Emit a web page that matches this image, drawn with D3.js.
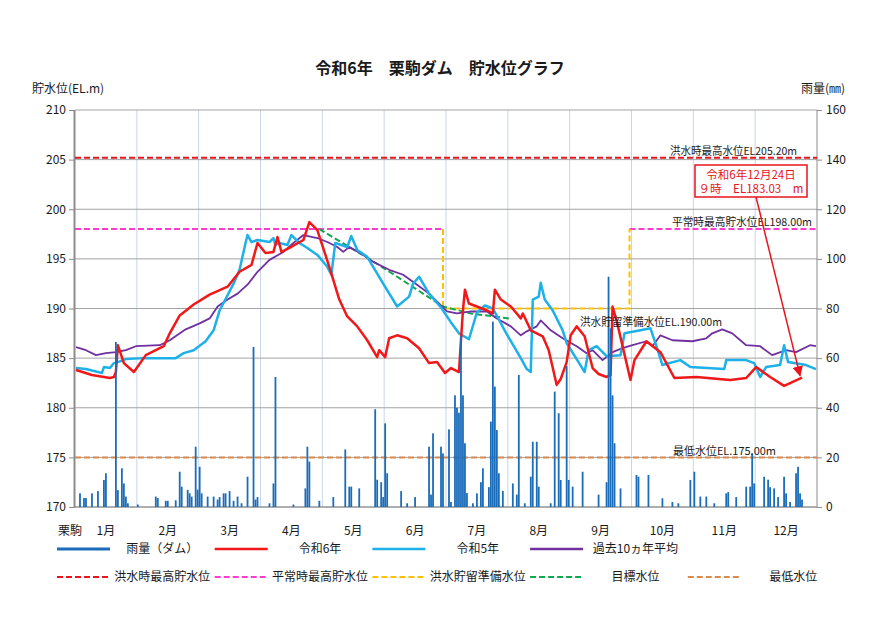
<!DOCTYPE html>
<html><head><meta charset="utf-8">
<script src="https://cdn.jsdelivr.net/npm/d3@7"></script>
<style>
body{margin:0;background:#fff}
svg{display:block}
text{font-family:"Noto Sans CJK JP","Noto Sans",sans-serif;fill:#1a1a1a}
</style>
</head><body><svg id="c" width="890" height="630"></svg>
<script>
// ---- data (day = slot index in a 31-slot-per-month calendar, 0 = Jan 1) ----
const months = ["1月","2月","3月","4月","5月","6月","7月","8月","9月","10月","11月","12月"];
const levelTicks = [170,175,180,185,190,195,200,205,210];
const rainTicks = [0,20,40,60,80,100,120,140,160];

const rainDay = [2,4,5,8,11,14,15,20,21,23,24,25,26,31,40,41,45,46,50,52,53,56,57,58,60,61,62,63,66,69,71,72,74,75,77,79,81,83,86,89,90,91,97,99,100,109,115,116,117,122,129,135,137,138,142,150,151,153,154,155,156,163,166,170,177,178,179,183,184,187,188,190,191,192,193,194,195,196,199,201,203,204,207,208,209,210,211,212,214,219,221,222,225,228,229,231,232,238,240,242,243,246,247,249,254,262,266,267,268,269,270,273,281,282,287,294,299,302,308,310,313,316,320,326,327,331,336,338,339,340,345,347,348,350,352,355,356,358,361,362,363,364];
const rainMM  = [5.5,3.6,3.6,5.5,6.4,10.9,13.6,66.5,6.8,15.6,9.5,4.2,1.5,1,4.2,3.6,2.5,2.5,2.7,14.2,8.2,6.9,5.5,4.2,24.3,7,16.2,5.5,4.2,4.2,3,4,5.5,5.5,6.4,2.5,4.2,1.5,12.2,64.5,3,4,1.5,9.5,52.4,1,7.5,24.3,18.3,2.5,4,23.2,8.2,8.2,7.5,39.4,11,10,4,33.7,13.6,6.4,1.5,4,24.3,5,29.7,24.3,21.6,31.3,2,45,40,38,69,45,25.7,5.6,1.5,5.5,10,15.6,8,34.4,74.7,48.5,31,13.6,6.5,9.5,5,53.2,1.5,12.2,26.3,26.3,8.2,1.5,46.5,37.8,10.9,56.8,10.9,8.2,14.2,5,10,92.8,72,45,25.7,7.5,12.9,12.2,12.9,3.5,2,1.5,10.9,14.2,4.2,4.2,1.5,5.5,6,4,8.2,8.2,21.6,9.5,12.2,11,8,7.5,4,12.2,5.5,2,13.6,16.2,5.5,3];

const level2024 = [[0,183.8],[8,183.3],[17,183.0],[19,183.1],[20,183.6],[21,186.3],[24,184.5],[29,183.6],[35,185.3],[44,186.2],[47,187.5],[52,189.3],[59,190.4],[67,191.4],[76,192.2],[82,193.7],[88,194.4],[91,196.6],[95,195.6],[99,195.7],[101,197.2],[103,195.7],[107,196.1],[114,196.9],[117,198.7],[121,197.9],[127,194.2],[132,190.9],[136,189.2],[141,188.2],[146,186.8],[151,185.1],[152,185.8],[155,185.1],[157,187.0],[161,187.3],[166,187.0],[172,186.0],[177,184.5],[181,184.6],[185,183.5],[188,184.0],[192,183.6],[193,186.8],[194,189.8],[195,191.9],[197,190.5],[201,190.2],[206,189.8],[209,189.5],[210,191.9],[213,190.9],[218,190.2],[223,189.0],[224,189.5],[228,187.8],[234,187.2],[237,185.8],[241,182.3],[243,182.9],[246,184.6],[248,187.3],[251,188.2],[255,187.2],[259,184.0],[262,183.4],[266,183.1],[268,183.3],[269,190.2],[271,188.8],[278,182.8],[280,184.8],[286,186.7],[293,185.6],[300,183.0],[311,183.1],[328,182.8],[336,183.0],[341,184.1],[348,183.1],[355,182.2],[364,183.03]];

const level2023 = [[0,184.0],[5,183.9],[13,183.5],[14,184.1],[17,184.0],[19,184.5],[21,184.6],[25,184.9],[34,185.0],[50,185.0],[54,185.5],[59,185.8],[65,186.7],[69,187.8],[72,189.8],[79,192.5],[82,193.9],[85,196.6],[86,197.4],[88,196.7],[91,196.9],[97,196.7],[99,197.1],[100,196.4],[102,196.6],[106,196.4],[108,197.4],[112,196.6],[116,196.1],[121,195.4],[126,194.2],[128,193.4],[130,196.6],[136,196.2],[138,197.3],[141,195.9],[146,195.2],[154,192.5],[161,190.2],[167,191.2],[169,192.5],[172,193.2],[177,191.5],[183,190.1],[188,188.6],[192,187.5],[197,186.9],[201,189.6],[205,190.3],[209,190.0],[216,187.4],[223,185.0],[226,183.9],[228,183.6],[229,190.9],[232,191.2],[233,192.6],[235,190.9],[239,189.8],[244,187.8],[246,186.5],[251,184.9],[255,183.6],[257,185.8],[261,186.2],[266,185.2],[273,185.3],[275,187.5],[283,187.8],[288,188.0],[291,186.2],[294,184.3],[303,184.8],[308,184.1],[325,183.9],[326,184.8],[336,184.8],[340,184.5],[343,183.1],[346,184.1],[353,184.3],[355,186.3],[357,184.6],[366,184.3],[371,183.9]];

const levelAvg10 = [[0,186.1],[5,185.8],[10,185.3],[15,185.5],[20,185.6],[25,185.8],[30,186.2],[42,186.3],[47,186.8],[55,187.9],[62,188.5],[67,189.0],[71,190.2],[76,190.9],[81,191.5],[86,192.4],[91,193.7],[97,194.9],[104,195.7],[109,196.6],[114,197.4],[121,197.1],[126,196.7],[131,196.2],[134,195.7],[137,196.2],[144,195.4],[149,194.7],[157,193.9],[164,193.4],[171,192.4],[177,191.5],[186,189.7],[191,189.5],[198,189.7],[206,189.7],[211,189.0],[218,188.2],[223,187.3],[226,187.7],[231,188.2],[233,188.8],[238,187.8],[244,187.0],[251,186.2],[256,185.5],[259,185.8],[264,184.8],[269,185.6],[274,186.0],[279,186.3],[286,186.7],[289,186.2],[293,187.3],[299,186.8],[309,186.7],[316,187.0],[319,187.5],[324,187.9],[329,187.5],[336,186.3],[343,186.2],[349,185.3],[356,185.8],[361,185.6],[368,186.3],[371,186.2]];

const targetLevel = [[122,198.0],[147,195.0],[161,193.2],[184,190.2],[198,189.5],[217,189.0]];

const floodMaxLevel = 205.2, normalMaxLevel = 198.0, floodPrepLevel = 190.0, minLevel = 175.0;
const floodSeason = [184.5, 278];   // day slots where 洪水期 starts / ends
const lastDay = 364, lastLevel = 183.03;

const refLabels = ["洪水時最高水位EL205.20m","平常時最高貯水位EL198.00m","洪水貯留準備水位EL.190.00m","最低水位EL.175.00m"];
const legendRow1 = ["雨量（ダム）","令和6年","令和5年","過去10ヵ年平均"];
const legendRow2 = ["洪水時最高貯水位","平常時最高貯水位","洪水貯留準備水位","目標水位","最低水位"];
const annotLines = ["令和6年12月24日","９時　EL183.03　m"];

// ---- drawing ----
const svg = d3.select("#c");
const L = 75, R = 817, T = 110, B = 507;
const x = d3.scaleLinear().domain([0, 372]).range([L, R]);
const cx = d => x(d + 0.5);
const yL = d3.scaleLinear().domain([170, 210]).range([B, T]);
const yR = d3.scaleLinear().domain([0, 160]).range([B, T]);

const C = {rain:"#1b6cb9", r6:"#f01818", r5:"#1eb0e8", avg:"#7030a0",
  flood:"#e8141e", normal:"#ff3ccd", prep:"#ffc000", target:"#10a84e", min:"#d98a4c"};

// title
svg.append("text").attr("x", 440).attr("y", 74).attr("text-anchor","middle")
  .attr("font-size", 16).attr("font-weight","bold").text("令和6年　栗駒ダム　貯水位グラフ");
svg.append("text").attr("x", 32).attr("y", 93).attr("font-size", 12).text("貯水位(EL.m)");
svg.append("text").attr("x", 801).attr("y", 93).attr("font-size", 12).text("雨量(㎜)");

// gridlines
svg.append("g").selectAll("line").data(d3.range(1, 12)).join("line")
  .attr("x1", d => x(d*31)).attr("x2", d => x(d*31)).attr("y1", T).attr("y2", B)
  .attr("stroke", "#c8d5ea").attr("stroke-width", 1);
svg.append("g").selectAll("line").data(levelTicks).join("line")
  .attr("x1", L).attr("x2", R).attr("y1", d => yL(d)).attr("y2", d => yL(d))
  .attr("stroke", "#a3a3a3").attr("stroke-width", 1);

// axes
const gl = svg.append("g").attr("transform", `translate(${L},0)`)
  .call(d3.axisLeft(yL).tickValues(levelTicks).tickSize(6).tickPadding(3));
const gr = svg.append("g").attr("transform", `translate(${R},0)`)
  .call(d3.axisRight(yR).tickValues(rainTicks).tickSize(5).tickPadding(4));
[gl, gr].forEach(g => {
  g.select(".domain").remove();
  g.selectAll(".tick line").attr("stroke", "#8c8c8c");
  g.selectAll(".tick text").attr("font-size", 12).attr("font-family", '"Noto Sans CJK JP",sans-serif').attr("fill","#1a1a1a");
});
svg.append("line").attr("x1", L-0.5).attr("x2", L-0.5).attr("y1", T).attr("y2", B).attr("stroke", "#8c8c8c").attr("stroke-width", 2);
svg.append("line").attr("x1", R).attr("x2", R).attr("y1", T).attr("y2", B).attr("stroke", "#8c8c8c").attr("stroke-width", 1);
svg.append("line").attr("x1", L).attr("x2", R).attr("y1", B).attr("y2", B).attr("stroke", "#8c8c8c").attr("stroke-width", 1);

// month labels
svg.append("text").attr("x", 58).attr("y", 535).attr("font-size", 12).text("栗駒");
svg.append("g").selectAll("text").data(months).join("text")
  .attr("x", (d, i) => x(i*31 + 15.5)).attr("y", 535).attr("text-anchor","middle")
  .attr("font-size", 12).text(d => d);

// reference lines
const line = d3.line().x(d => cx(d[0])).y(d => yL(d[1]));
const lineRaw = d3.line().x(d => x(d[0])).y(d => yL(d[1]));
const dash = "6,3";
const ref = svg.append("g").attr("fill","none").attr("stroke-width", 2).attr("stroke-dasharray", dash);
ref.append("path").attr("d", lineRaw([[0, floodMaxLevel],[372, floodMaxLevel]])).attr("stroke", C.flood);
ref.append("path").attr("d", lineRaw([[0, normalMaxLevel],[floodSeason[0], normalMaxLevel]])).attr("stroke", C.normal);
ref.append("path").attr("d", lineRaw([[floodSeason[1], normalMaxLevel],[372, normalMaxLevel]])).attr("stroke", C.normal);
ref.append("path").attr("d", lineRaw([[floodSeason[0], normalMaxLevel],[floodSeason[0], floodPrepLevel],[floodSeason[1], floodPrepLevel],[floodSeason[1], normalMaxLevel]])).attr("stroke", C.prep);
ref.append("path").attr("d", line(targetLevel)).attr("stroke", C.target);
ref.append("path").attr("d", lineRaw([[0, minLevel],[372, minLevel]])).attr("stroke", C.min);

// water level lines
svg.append("path").attr("d", line(levelAvg10)).attr("fill","none").attr("stroke", C.avg).attr("stroke-width", 1.8).attr("stroke-linejoin","round");
svg.append("path").attr("d", line(level2023)).attr("fill","none").attr("stroke", C.r5).attr("stroke-width", 2.5).attr("stroke-linejoin","round");
svg.append("path").attr("d", line(level2024)).attr("fill","none").attr("stroke", C.r6).attr("stroke-width", 2.5).attr("stroke-linejoin","round");

// rain bars
const bw = x(1) - x(0);
svg.append("g").selectAll("rect").data(rainDay.map((d, i) => [d, rainMM[i]])).join("rect")
  .attr("x", d => x(d[0]) + 0.1).attr("width", bw - 0.2)
  .attr("y", d => yR(d[1])).attr("height", d => B - yR(d[1]))
  .attr("fill", C.rain);

// reference labels
const refPos = [[670, yL(floodMaxLevel) - 3, 127],[672, yL(normalMaxLevel) - 3, 140],[580, yL(floodPrepLevel) + 17, 142],[673, yL(minLevel) - 2, 103]];
svg.append("g").selectAll("text").data(refLabels).join("text")
  .attr("x", (d, i) => refPos[i][0]).attr("y", (d, i) => refPos[i][1])
  .attr("textLength", (d, i) => refPos[i][2]).attr("lengthAdjust", "spacingAndGlyphs")
  .attr("font-size", 11).text(d => d);

// annotation
const ag = svg.append("g");
ag.append("rect").attr("x", 695).attr("y", 165).attr("width", 112).attr("height", 32)
  .attr("fill", "#fff").attr("stroke", C.flood).attr("stroke-width", 1.5);
ag.selectAll("text").data(annotLines).join("text")
  .attr("x", 751).attr("y", (d, i) => 178.5 + i*14.5).attr("text-anchor","middle")
  .attr("font-size", 11.5).style("fill", C.flood).text(d => d);
svg.append("defs").append("marker").attr("id","arr").attr("viewBox","0 0 10 10")
  .attr("refX", 9).attr("refY", 5).attr("markerWidth", 7).attr("markerHeight", 7).attr("orient","auto")
  .append("path").attr("d","M0,0L10,5L0,10z").attr("fill", C.flood);
ag.append("line").attr("x1", 756).attr("y1", 197).attr("x2", cx(lastDay) - 2).attr("y2", yL(lastLevel) - 2)
  .attr("stroke", C.flood).attr("stroke-width", 1.5).attr("marker-end","url(#arr)");

// legend
const colW = 157.7, lx0 = 57, sw = 53;
const row1Style = [[C.rain, null, 3],[C.r6, null, 2.5],[C.r5, null, 2.5],[C.avg, null, 2.5]];
const row2Style = [[C.flood, dash, 2],[C.normal, dash, 2],[C.prep, dash, 2],[C.target, dash, 2],[C.min, dash, 2]];
[[legendRow1, row1Style, 549],[legendRow2, row2Style, 577]].forEach(([names, st, yy]) => {
  const g = svg.append("g");
  names.forEach((n, i) => {
    const x0 = lx0 + i*colW;
    g.append("line").attr("x1", x0).attr("x2", x0 + sw).attr("y1", yy).attr("y2", yy)
      .attr("stroke", st[i][0]).attr("stroke-width", st[i][2]).attr("stroke-dasharray", st[i][1]);
    g.append("text").attr("x", x0 + sw + (colW - sw)/2).attr("y", yy + 4).attr("text-anchor","middle")
      .attr("font-size", 12).text(n);
  });
});
</script></body></html>
